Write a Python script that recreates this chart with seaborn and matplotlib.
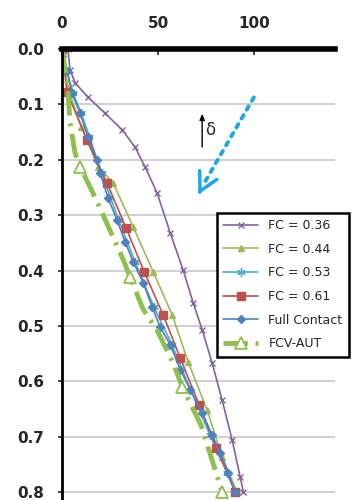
import matplotlib
matplotlib.use("Agg")
import matplotlib.pyplot as plt
import seaborn as sns
import pandas as pd

# ---- data (x = value, depth = ratio) ----
fc036_x = [3.1, 4.2, 6.8, 13.5, 22.4, 31.3, 38.0, 43.2, 49.5, 56.3, 63.0, 68.2, 72.9,
           78.1, 83.3, 88.5, 92.7, 94.3]
fc036_d = [0.0, 0.038, 0.061, 0.087, 0.116, 0.146, 0.177, 0.213, 0.26, 0.332, 0.399,
           0.458, 0.507, 0.567, 0.634, 0.706, 0.773, 0.80]

fc044_x = [0.0, 3.0, 10.0, 18.8, 26.6, 37.0, 47.4, 57.3, 65.6, 75.5, 83.3, 91.1]
fc044_d = [0.0, 0.07, 0.14, 0.213, 0.242, 0.321, 0.402, 0.48, 0.565, 0.652, 0.737, 0.80]

fc053_x = [0.0, 2.6, 5.8, 10.0, 14.3, 20.6, 29.5, 38.0, 47.8, 57.2, 66.8, 77.0, 86.0, 90.1]
fc053_d = [0.0, 0.04, 0.08, 0.116, 0.159, 0.224, 0.309, 0.384, 0.466, 0.534, 0.615,
           0.697, 0.765, 0.80]

fc061_x = [0.0, 2.6, 13.0, 23.4, 33.3, 42.7, 52.6, 61.5, 71.4, 80.2, 90.1]
fc061_d = [0.0, 0.078, 0.164, 0.242, 0.323, 0.402, 0.48, 0.558, 0.643, 0.72, 0.80]

full_x = [0.0, 0.0, 2.6, 5.2, 9.4, 13.5, 18.2, 19.8, 24.0, 28.6, 32.8, 37.0, 42.2,
          46.9, 51.0, 56.3, 61.5, 66.7, 72.9, 78.1, 82.3, 86.5, 90.1]
full_d = [0.0, 0.013, 0.04, 0.08, 0.116, 0.159, 0.2, 0.224, 0.269, 0.309, 0.348, 0.384,
          0.422, 0.466, 0.502, 0.534, 0.579, 0.615, 0.657, 0.697, 0.729, 0.765, 0.80]

fcv_x = [0.0, 3.0, 4.2, 6.8, 9.4, 16.1, 21.4, 31.8, 35.4, 42.2, 49.5, 58.3, 62.5, 72.4, 83.3]
fcv_d = [0.0, 0.07, 0.134, 0.188, 0.213, 0.26, 0.30, 0.38, 0.412, 0.47, 0.508, 0.571,
         0.61, 0.68, 0.80]

x_ticks = [0, 50, 100]
y_ticks = [0.0, 0.1, 0.2, 0.3, 0.4, 0.5, 0.6, 0.7, 0.8]

sns.set_style("white")
plt.rcParams['font.family'] = ['DejaVu Sans']

fig = plt.figure(figsize=(3.52, 5.0), dpi=100)
ax = fig.add_axes([62 / 352, 0.0, 273 / 352, 451 / 500])

# light horizontal grid
for yv in y_ticks[1:]:
    ax.axhline(yv, color="#c8c8c8", lw=1.2, zorder=0)

series = [
    ("FC = 0.36", fc036_x, fc036_d, dict(color="#8064A2", marker="x", markersize=4.5, lw=1.2)),
    ("FC = 0.44", fc044_x, fc044_d, dict(color="#9BBB59", marker="^", markersize=5, lw=1.2)),
    ("FC = 0.53", fc053_x, fc053_d, dict(color="#4BACC6", marker=(6, 2, 0), markersize=6, lw=1.2)),
    ("FC = 0.61", fc061_x, fc061_d, dict(color="#C0504D", marker="s", markersize=6, lw=1.2)),
    ("Full Contact", full_x, full_d, dict(color="#4F81BD", marker="D", markersize=3.8, lw=1.2)),
]
for name, xs, ds, kw in series:
    df = pd.DataFrame({"x": xs, "d": ds})
    sns.lineplot(data=df, x="x", y="d", sort=False, estimator=None, ax=ax,
                 label=name, markeredgewidth=1, markeredgecolor=kw["color"], **kw)

df = pd.DataFrame({"x": fcv_x, "d": fcv_d})
sns.lineplot(data=df, x="x", y="d", sort=False, estimator=None, ax=ax,
             label="FCV-AUT", color="#8DC04E", lw=3.5, linestyle=(0, (5, 1.6, 0.6, 1.6)),
             marker="^", markersize=9, markerfacecolor="white", markeredgecolor="#8DC04E",
             markeredgewidth=1.3, markevery=[4, 8, 12, 14])

# annotation arrows
ax.annotate("", xy=(73.5, 0.245), xytext=(100.5, 0.083),
            arrowprops=dict(arrowstyle="-", color="#1FA8E0", lw=2.8, linestyle=":"))
ax.annotate("", xy=(70.3, 0.267), xytext=(72.5, 0.252),
            arrowprops=dict(arrowstyle="->,head_length=1.3,head_width=0.7",
                            color="#1FA8E0", lw=2.5))
ax.annotate("", xy=(72.9, 0.112), xytext=(72.9, 0.182),
            arrowprops=dict(arrowstyle="-|>,head_length=0.35,head_width=0.15", color="black", lw=1))
ax.text(74.5, 0.147, "δ", fontsize=12, va="center", ha="left")

ax.set_xlim(0, 142)
ax.set_ylim(0.8144, 0)
ax.xaxis.tick_top()
ax.set_xticks(x_ticks)
ax.set_yticks(y_ticks)
ax.set_yticklabels([f"{v:.1f}" for v in y_ticks], fontweight="bold", fontsize=11)
ax.set_xticklabels([str(v) for v in x_ticks], fontweight="bold", fontsize=11)
ax.tick_params(axis="x", direction="in", length=4, width=1.2, pad=13, top=True, bottom=False)
ax.tick_params(axis="y", direction="out", length=3, width=1.2, pad=10, left=True)
ax.set_xlabel("")
ax.set_ylabel("")

for side in ["right", "bottom"]:
    ax.spines[side].set_visible(False)
ax.spines["top"].set_linewidth(4)
ax.spines["top"].set_color("black")
ax.spines["left"].set_linewidth(2)
ax.spines["left"].set_color("black")

leg = ax.legend(loc="upper left", bbox_to_anchor=(217 / 352, 1 - 213 / 500),
                bbox_transform=fig.transFigure, fontsize=9, frameon=True,
                fancybox=False, handlelength=2.8, labelspacing=0.85,
                borderpad=0.5, handletextpad=0.8, borderaxespad=0)
leg.get_frame().set_edgecolor("black")
leg.get_frame().set_linewidth(1.8)
leg.get_frame().set_alpha(1)

fig.savefig("out.png", dpi=100)
